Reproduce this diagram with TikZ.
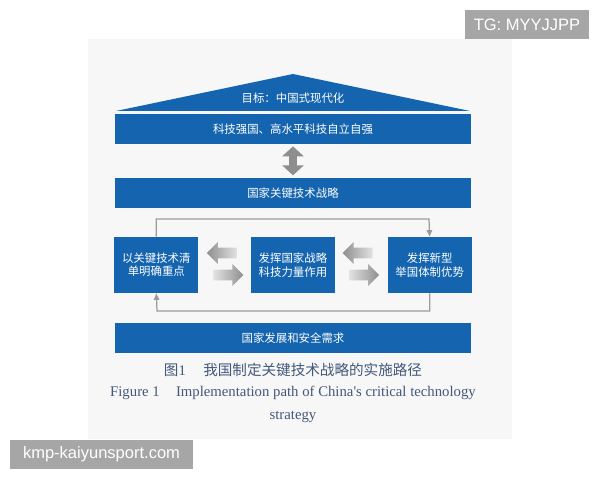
\documentclass[tikz,border=0pt]{standalone}
\usepackage{fontspec}
\setmainfont{Liberation Serif}
\newfontfamily\cjk{Noto Sans CJK SC}
\newfontfamily\markfont{Liberation Sans}
\usepackage{tikz}
\usetikzlibrary{arrows.meta,positioning,calc,shapes.arrows}

\definecolor{barblue}{HTML}{1464AF}
\definecolor{panelgray}{HTML}{F7F7F7}
\definecolor{arrowgray}{HTML}{8E8E8E}
\definecolor{linegray}{HTML}{9C9C9C}
\definecolor{captionblue}{HTML}{44587A}
\definecolor{markgray}{HTML}{A6A6A6}

\begin{document}
\begin{tikzpicture}[x=0.02cm, y=-0.02cm]
	\tikzstyle{bar} = [rectangle, minimum width=7.12cm, minimum height=0.6cm, inner sep=0pt,
	text centered, fill=barblue, text=white, font=\cjk\fontsize{6.5}{7.5}\selectfont]
	\tikzstyle{process} = [rectangle, minimum width=1.68cm, minimum height=1.12cm, inner sep=0pt,
	align=center, fill=barblue, text=white, font=\cjk\fontsize{6.5}{7.6}\selectfont]
	\tikzstyle{blockarrow} = [single arrow, minimum height=0.6cm, minimum width=0.42cm,
	single arrow head extend=0.11cm, inner xsep=0pt, inner ysep=0.1cm, draw=none]
	\tikzstyle{biarrow} = [draw=arrowgray, line width=0.17cm,
	{Triangle[width=0.42cm, length=0.2cm]}-{Triangle[width=0.42cm, length=0.2cm]},
	shorten <=0.04cm, shorten >=0.04cm]
	\tikzstyle{loopline} = [draw=linegray, line width=0.7pt, -{Triangle[width=0.11cm, length=0.13cm]}]
	\tikzstyle{watermark} = [rectangle, fill=markgray, text=white, inner sep=0pt,
	font=\markfont\fontsize{9.4}{11}\selectfont]

	\useasboundingbox (0,0) rectangle (600,480);
	\fill [white] (0,0) rectangle (600,480);
	\fill [panelgray] (88,39) rectangle (512,439);

	% roof
	\fill [barblue] (116,111) -- (293,74) -- (470,111) -- cycle;
	\node (goal) [text=white, font=\cjk\fontsize{6.5}{7.5}\selectfont] at (293,98) {目标：中国式现代化};

	\node (strongNation) [bar] at (293,129) {科技强国、高水平科技自立自强};
	\node (keyTech) [bar, below=0.66cm of strongNation] {国家关键技术战略};

	\node (stateForce) [process] at (293,265) {发挥国家战略\\科技力量作用};
	\node (techList) [process, left=1.04cm of stateForce] {以关键技术清\\单明确重点};
	\node (newSystem) [process, right=1.04cm of stateForce] {发挥新型\\举国体制优势};

	\node (nationalNeeds) [bar, below=0.58cm of stateForce] {国家发展和安全需求};

	% block arrows between the boxes
	\node (backLeft) [blockarrow, shape border rotate=180, left color=arrowgray, right color=arrowgray!25]
	at ($(techList.east)!0.5!(stateForce.west)+(0,-12)$) {};
	\node (forthLeft) [blockarrow, left color=arrowgray!25, right color=arrowgray]
	at ($(techList.east)!0.5!(stateForce.west)+(1,10)$) {};
	\node (backRight) [blockarrow, shape border rotate=180, left color=arrowgray, right color=arrowgray!25]
	at ($(stateForce.east)!0.5!(newSystem.west)+(-1,-12)$) {};
	\node (forthRight) [blockarrow, left color=arrowgray!25, right color=arrowgray]
	at ($(stateForce.east)!0.5!(newSystem.west)+(0,10)$) {};

	\draw [biarrow] (strongNation) -- (keyTech);

	\coordinate (topRoute) at (429,219);
	\coordinate (bottomRoute) at (157,311);
	\draw [loopline] (techList.north) |- (topRoute) -- (newSystem.north);
	\draw [loopline] (newSystem.south) |- (bottomRoute) -- (techList.south);

	% captions
	\node (captionCn) [text=captionblue, font=\cjk\fontsize{8.3}{10}\selectfont] at (293,370)
	{图{\rmfamily 1}\hspace{1.2em}我国制定关键技术战略的实施路径};
	\node (captionEn) [text=captionblue, align=center, font=\fontsize{8.4}{13.2}\selectfont] at (293,404)
	{Figure 1\hspace{1.1em}Implementation path of China\textquotesingle s critical technology\\strategy};

	\node (tgMark) [watermark, minimum width=2.48cm, minimum height=0.58cm] at (527,24.5) {TG: MYYJJPP};
	\node (siteMark) [watermark, minimum width=3.66cm, minimum height=0.58cm] at (101.5,454.5) {kmp-kaiyunsport.com};
\end{tikzpicture}
\end{document}
